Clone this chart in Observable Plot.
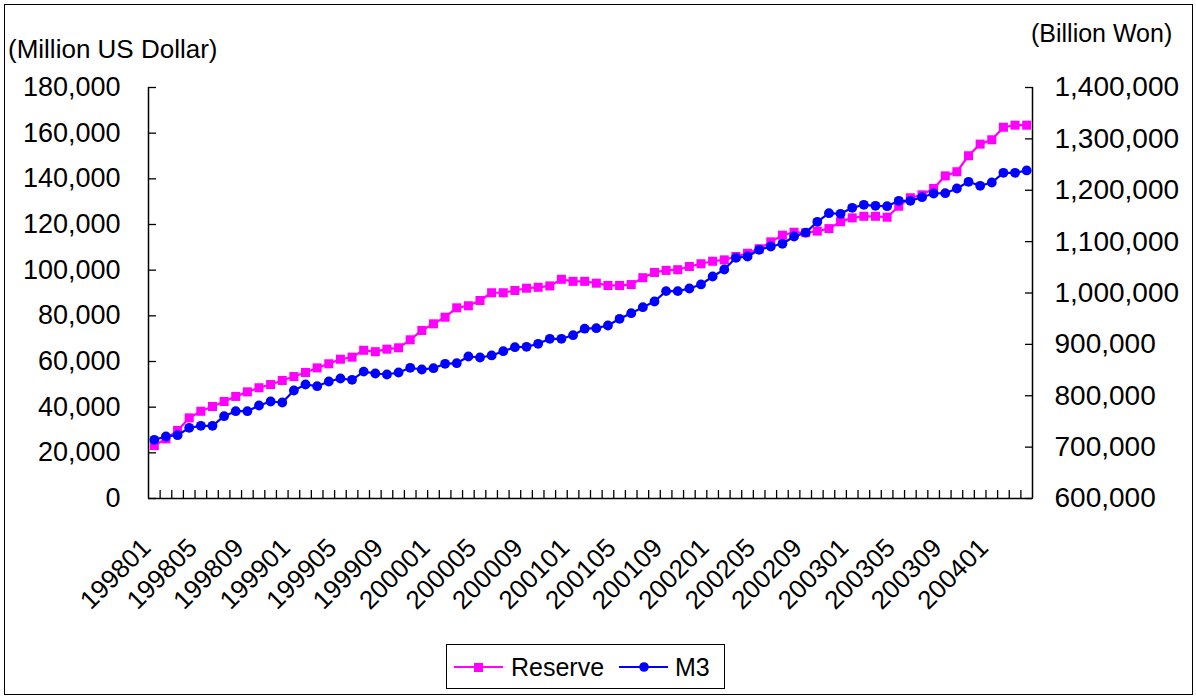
<!DOCTYPE html>
<html><head><meta charset="utf-8">
<script src="https://cdn.jsdelivr.net/npm/d3@7"></script>
<script src="https://cdn.jsdelivr.net/npm/@observablehq/plot@0.6"></script>
<style>
html,body{margin:0;padding:0;background:#fff;overflow:hidden;}
#wrap{position:relative;width:1196px;height:698px;font-family:"Liberation Sans",Arial,sans-serif;color:#000;background:#fff;}
#chart{position:absolute;left:0;top:0;}
.title{position:absolute;line-height:1;white-space:nowrap;}
#frame{position:absolute;left:4px;top:4px;width:1187px;height:689px;border:1px solid #000;pointer-events:none;}
#legend{position:absolute;left:446px;top:644px;width:277px;height:43px;border:1px solid #000;background:#fff;}
#legend .sw{position:absolute;top:12px;}
#legend .lt{position:absolute;top:10px;font-size:25px;line-height:25px;white-space:nowrap;}
</style></head>
<body>
<div id="wrap">
  <div id="chart"></div>
  <div class="title" style="left:8px;top:36px;font-size:26px;">(Million US Dollar)</div>
  <div class="title" style="left:1031px;top:21px;font-size:25px;">(Billion Won)</div>
  <div id="legend">
    <svg class="sw" style="left:7px" width="50" height="20"><line x1="0" y1="10" x2="49" y2="10" stroke="#FF00FF" stroke-width="2"/><rect x="20" y="6" width="9" height="9" fill="#FF00FF"/></svg>
    <div class="lt" style="left:64px">Reserve</div>
    <svg class="sw" style="left:172px" width="50" height="20"><line x1="0" y1="10" x2="49" y2="10" stroke="#0000FF" stroke-width="2"/><circle cx="25" cy="10" r="4.8" fill="#0000FF"/></svg>
    <div class="lt" style="left:228px">M3</div>
  </div>
  <div id="frame"></div>
</div>
<script>
const months = ["199801","199802","199803","199804","199805","199806","199807","199808","199809","199810","199811","199812",
"199901","199902","199903","199904","199905","199906","199907","199908","199909","199910","199911","199912",
"200001","200002","200003","200004","200005","200006","200007","200008","200009","200010","200011","200012",
"200101","200102","200103","200104","200105","200106","200107","200108","200109","200110","200111","200112",
"200201","200202","200203","200204","200205","200206","200207","200208","200209","200210","200211","200212",
"200301","200302","200303","200304","200305","200306","200307","200308","200309","200310","200311","200312",
"200401","200402","200403","200404"];

const reserve = [23200,26100,29800,35300,38200,40300,42500,44700,46700,48500,49900,51700,
53400,55200,57200,59000,61000,61900,64900,64300,65400,66000,69500,73600,
76500,79400,83500,84400,86700,90100,90100,91100,92100,92500,93100,96000,
95100,95100,94300,93300,93300,93700,96700,99000,99900,100200,101600,102800,
103900,104500,106000,107400,109400,112400,115300,116600,116400,117100,118200,121200,
122900,123600,123600,123200,128000,131700,133000,135800,141300,143100,150100,155200,
157100,162600,163500,163500];

const m3 = [714300,720700,723200,737600,741500,741500,760200,770000,770000,781000,788800,786900,
810200,821900,818600,827700,833600,831000,847000,843300,841400,845300,854400,851100,
853600,862200,863400,876400,874500,878400,886700,894500,895300,901100,910900,910900,
917900,930500,931500,936700,949800,960700,972400,983500,1003600,1003600,1008800,1016600,
1032100,1045700,1068500,1071000,1084100,1090500,1095800,1110000,1117500,1138600,1155300,1154100,
1165800,1171700,1169700,1169000,1179500,1179500,1186500,1193700,1194300,1203400,1216400,1208700,
1215100,1234000,1234000,1238500];

const xTickLabels = ["199801","199805","199809","199901","199905","199909","200001","200005","200009","200101","200105","200109","200201","200205","200209","200301","200305","200309","200401"];
const leftTicks = [0,20000,40000,60000,80000,100000,120000,140000,160000,180000];
const rightTicks = [600000,700000,800000,900000,1000000,1100000,1200000,1300000,1400000];

const L0 = leftTicks[0], L1 = leftTicks[leftTicks.length-1];
const R0 = rightTicks[0], R1 = rightTicks[rightTicks.length-1];
const toLeft = v => L0 + (v - R0) * (L1 - L0) / (R1 - R0);
const fromLeft = d => Math.round(R0 + (d - L0) * (R1 - R0) / (L1 - L0));

const data = months.map((m, i) => ({i, m, reserve: reserve[i], m3l: toLeft(m3[i])}));
const labelIdx = xTickLabels.map(t => months.indexOf(t));
const bounds = months.slice(1).map((_, i) => i + 0.5);
const fmt = d3.format(",");

const plot = Plot.plot({
  width: 1196, height: 640,
  marginLeft: 148, marginRight: 164, marginTop: 87, marginBottom: 142,
  style: {fontFamily: '"Liberation Sans", Arial, sans-serif', fontSize: "25px", color: "#000", background: "transparent", overflow: "visible"},
  x: {type: "linear", domain: [-0.5, months.length - 0.5]},
  y: {domain: [L0, L1]},
  marks: [
    Plot.axisY({anchor: "left", ticks: leftTicks, tickFormat: fmt, tickSize: -8, tickPadding: 36, label: null, strokeWidth: 1.3, fontSize: 27}),
    Plot.axisY({anchor: "right", ticks: rightTicks.map(toLeft), tickFormat: d => fmt(fromLeft(d)), tickSize: -8, tickPadding: 30, label: null, strokeWidth: 1.3, fontSize: 28}),
    Plot.axisX({ticks: bounds, tickSize: -8, fill: "none", label: null, strokeWidth: 1.3}),
    Plot.axisX({ticks: labelIdx, tickFormat: i => months[i], tickSize: 0, tickRotate: -45, tickPadding: 45, dx: -8, label: null, fontSize: 26}),
    Plot.ruleX([-0.5, months.length - 0.5], {stroke: "#000", strokeWidth: 1.5}),
    Plot.ruleY([L0], {stroke: "#000", strokeWidth: 1.5}),
    Plot.line(data, {x: "i", y: "reserve", stroke: "#FF00FF", strokeWidth: 2.2}),
    Plot.dot(data, {x: "i", y: "reserve", symbol: "square", r: 5.1, fill: "#FF00FF", stroke: "none"}),
    Plot.line(data, {x: "i", y: "m3l", stroke: "#0000FF", strokeWidth: 2.2}),
    Plot.dot(data, {x: "i", y: "m3l", symbol: "circle", r: 4.9, fill: "#0000FF", stroke: "none"})
  ]
});
document.getElementById("chart").appendChild(plot);
</script>
</body></html>
